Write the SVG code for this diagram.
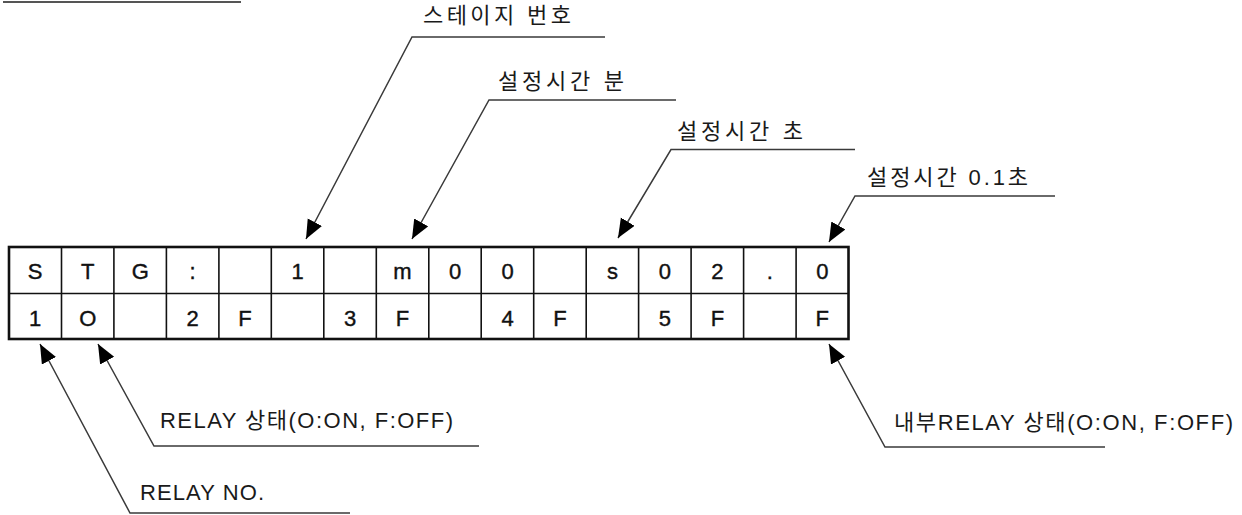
<svg xmlns="http://www.w3.org/2000/svg" width="1242" height="515" viewBox="0 0 1242 515">
<style>
.cell{font-family:"Liberation Sans","Noto Sans CJK KR",sans-serif;font-size:22px;fill:#111;stroke:#111;stroke-width:0.4;text-anchor:middle}
.lbl{font-family:"Liberation Sans","Noto Sans CJK KR",sans-serif;font-size:22px;fill:#1a1a1a}
.ld{fill:none;stroke:#3a3a3a;stroke-width:1.5}
.grid{stroke:#111;stroke-width:1.6}
</style>
<defs>
<marker id="ah" markerUnits="userSpaceOnUse" markerWidth="22" markerHeight="18" refX="19" refY="8" orient="auto">
<path d="M0,0 L19,8 L0,16 z" fill="#000"/>
</marker>
</defs>
<rect width="1242" height="515" fill="#fff"/>
<line x1="3" y1="2" x2="241" y2="2" stroke="#555" stroke-width="2"/>
<g id="table">
<rect x="9" y="247" width="839.5" height="92" fill="#fff" stroke="#111" stroke-width="2.6"/>
<line class="grid" x1="9" y1="293.5" x2="848.5" y2="293.5"/>
<g class="grid">
<line x1="61.5" y1="247" x2="61.5" y2="339"/>
<line x1="113.9" y1="247" x2="113.9" y2="339"/>
<line x1="166.4" y1="247" x2="166.4" y2="339"/>
<line x1="218.9" y1="247" x2="218.9" y2="339"/>
<line x1="271.3" y1="247" x2="271.3" y2="339"/>
<line x1="323.8" y1="247" x2="323.8" y2="339"/>
<line x1="376.3" y1="247" x2="376.3" y2="339"/>
<line x1="428.8" y1="247" x2="428.8" y2="339"/>
<line x1="481.2" y1="247" x2="481.2" y2="339"/>
<line x1="533.7" y1="247" x2="533.7" y2="339"/>
<line x1="586.2" y1="247" x2="586.2" y2="339"/>
<line x1="638.6" y1="247" x2="638.6" y2="339"/>
<line x1="691.1" y1="247" x2="691.1" y2="339"/>
<line x1="743.6" y1="247" x2="743.6" y2="339"/>
<line x1="796.1" y1="247" x2="796.1" y2="339"/>
</g>
<g class="cell">
<text x="35.2" y="278.5">S</text>
<text x="87.7" y="278.5">T</text>
<text x="140.2" y="278.5">G</text>
<text x="192.6" y="278.5">:</text>
<text x="297.6" y="278.5">1</text>
<text x="402.5" y="278.5">m</text>
<text x="455" y="278.5">0</text>
<text x="507.5" y="278.5">0</text>
<text x="612.4" y="278.5">s</text>
<text x="664.9" y="278.5">0</text>
<text x="717.4" y="278.5">2</text>
<text x="769.8" y="278.5">.</text>
<text x="822.3" y="278.5">0</text>
<text x="35.2" y="325.5">1</text>
<text x="87.7" y="325.5">O</text>
<text x="192.6" y="325.5">2</text>
<text x="245.1" y="325.5">F</text>
<text x="350" y="325.5">3</text>
<text x="402.5" y="325.5">F</text>
<text x="507.5" y="325.5">4</text>
<text x="559.9" y="325.5">F</text>
<text x="664.9" y="325.5">5</text>
<text x="717.4" y="325.5">F</text>
<text x="822.3" y="325.5">F</text>
</g>
</g>
<g id="connectors">
<polyline class="ld" points="605,37 412,37 306,239" marker-end="url(#ah)"/>
<polyline class="ld" points="676,100 489,100 412,239" marker-end="url(#ah)"/>
<polyline class="ld" points="855,149.5 671,149.5 618,238" marker-end="url(#ah)"/>
<polyline class="ld" points="1055,196 855,196 829,242" marker-end="url(#ah)"/>
<polyline class="ld" points="479,446 154,446 98,344" marker-end="url(#ah)"/>
<polyline class="ld" points="350,513 130,513 40,344" marker-end="url(#ah)"/>
<polyline class="ld" points="1105,447 885,447 829,344" marker-end="url(#ah)"/>
</g>
<g id="label-stage"><text class="lbl" x="423" y="23" textLength="148" lengthAdjust="spacing">스테이지 번호</text></g>
<g id="label-min"><text class="lbl" x="498" y="89" textLength="126" lengthAdjust="spacing">설정시간 분</text></g>
<g id="label-sec"><text class="lbl" x="677" y="139" textLength="126" lengthAdjust="spacing">설정시간 초</text></g>
<g id="label-tenth"><text class="lbl" x="867" y="185" textLength="161" lengthAdjust="spacing">설정시간 0.1초</text></g>
<g id="label-relay-state"><text class="lbl" x="160" y="428" textLength="293" lengthAdjust="spacing">RELAY 상태(O:ON, F:OFF)</text></g>
<g id="label-relay-no"><text class="lbl" x="140" y="500" textLength="124" lengthAdjust="spacing">RELAY NO.</text></g>
<g id="label-internal"><text class="lbl" x="894" y="430" textLength="339" lengthAdjust="spacing">내부RELAY 상태(O:ON, F:OFF)</text></g>
</svg>
